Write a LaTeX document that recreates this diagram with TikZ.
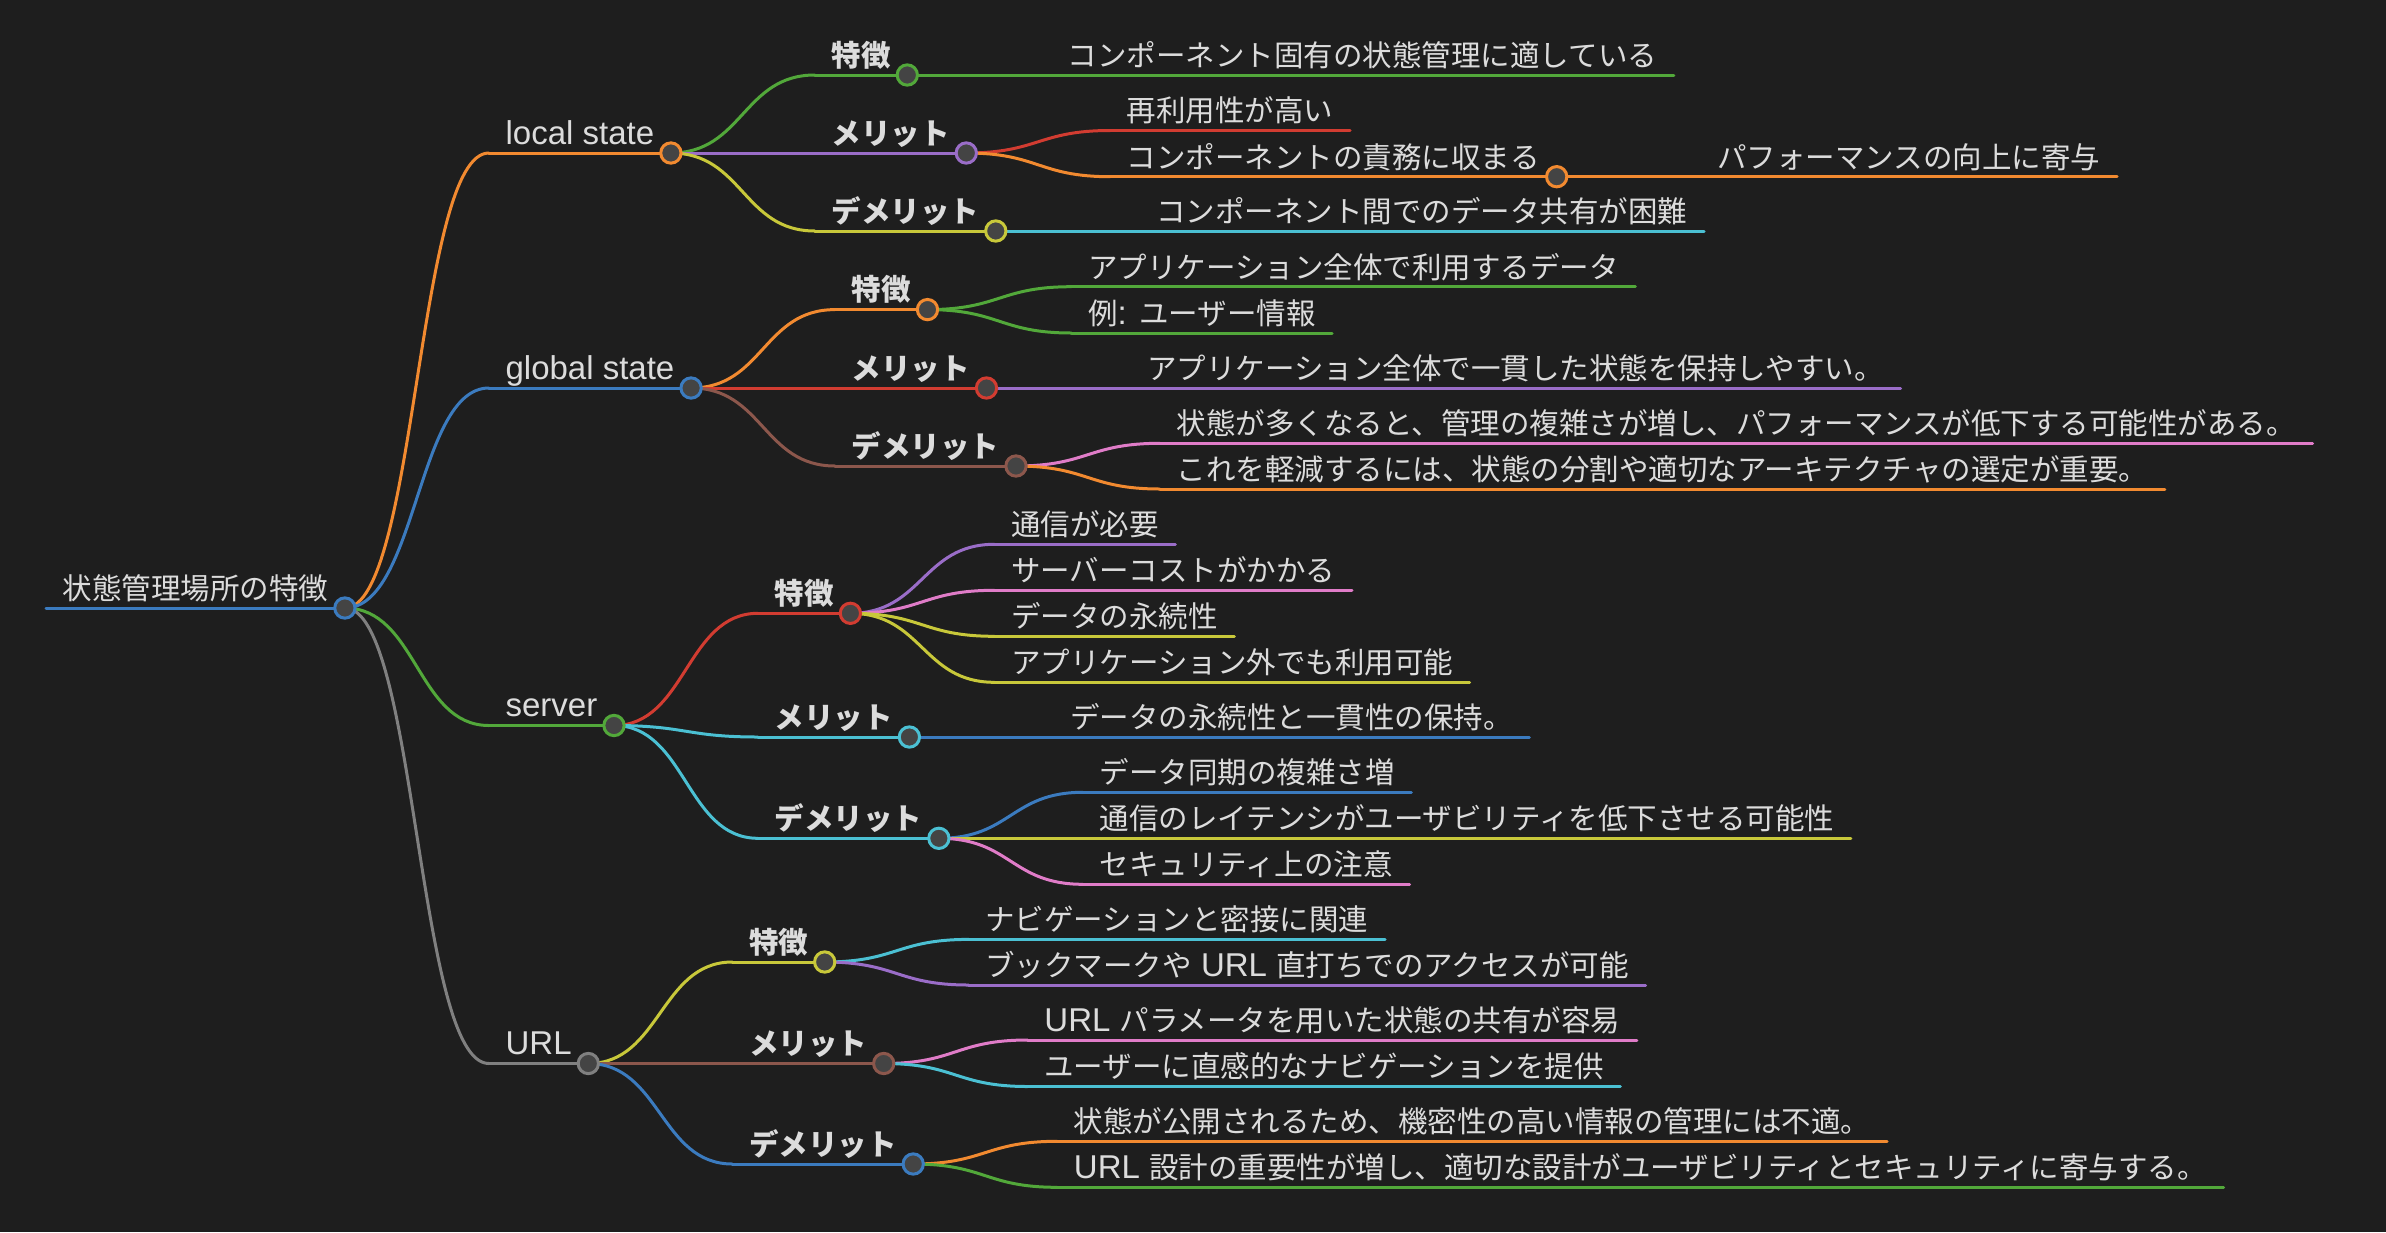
\documentclass[tikz,border=0pt]{standalone}
\usepackage{fontspec}
\setmainfont{Noto Sans CJK JP}
\newfontfamily\latf{Liberation Sans}
\usetikzlibrary{calc}
\definecolor{bg}{HTML}{1E1E1E}
\definecolor{txt}{HTML}{DCDCDC}
\definecolor{dotfill}{HTML}{444444}
\definecolor{cblue}{HTML}{3B7BBF}
\definecolor{corange}{HTML}{F28A30}
\definecolor{cgreen}{HTML}{52A83A}
\definecolor{cred}{HTML}{D23C31}
\definecolor{cpurple}{HTML}{9A6DC8}
\definecolor{cbrown}{HTML}{8C574C}
\definecolor{cpink}{HTML}{E07CC8}
\definecolor{cgray}{HTML}{808080}
\definecolor{colive}{HTML}{C8C83A}
\definecolor{ccyan}{HTML}{4BC0D3}
\newcommand\lt[1]{{\latf\fontsize{33}{36}\selectfont #1}}
\tikzset{
  lbl/.style={anchor=south west, inner xsep=16.5pt, inner ysep=8.5pt, text depth=0pt,
    text=txt, font=\fontsize{29.5}{34}\selectfont},
  blbl/.style={lbl, font=\fontsize{29.5}{34}\selectfont\bfseries},
  wire/.style={line width=3pt, line cap=round},
  dot/.style={circle, minimum size=20.3pt, inner sep=0pt, line width=3pt, fill=dotfill, draw=#1},
}
% child node: parent, name, y, style, text
\newcommand\kid[5]{\node[#4, xshift=144pt] (#2) at (#1.south east |- 0,#3) {#5};}
% link + underline: parent, child, colour
\newcommand\lnk[3]{%
  \draw[wire, #3] let \p1=(#1.south east), \p2=(#2.south west) in
    (\p1) .. controls ({0.5*\x1+0.5*\x2},\y1) and ({0.5*\x1+0.5*\x2},\y2) .. (\p2);
  \draw[wire, #3] (#2.south west) -- (#2.south east);}
\newcommand\dotat[2]{\node[dot=#2] (#1-d) at (#1.south east) {};}
\begin{document}
\begin{tikzpicture}[x=1pt,y=-1pt]
\fill[bg] (0,0) rectangle (2386,1232);
\useasboundingbox (0,0) rectangle (2386,1232);
% ---------- nodes ----------
\node[lbl] (root) at (46,608) {状態管理場所の特徴};
\kid{root}{ls}{153}{lbl}{\lt{local state}}
\kid{root}{gs}{388}{lbl}{\lt{global state}}
\kid{root}{sv}{725.5}{lbl}{\lt{server}}
\kid{root}{ur}{1063.5}{lbl}{\lt{URL}}
% local state
\kid{ls}{ls1}{75}{blbl}{特徴}
\kid{ls}{ls2}{153}{blbl}{メリット}
\kid{ls}{ls3}{231}{blbl}{デメリット}
\kid{ls1}{ls1a}{75}{lbl}{コンポーネント固有の状態管理に適している}
\kid{ls2}{ls2a}{130.5}{lbl}{再利用性が高い}
\kid{ls2}{ls2b}{176.7}{lbl}{コンポーネントの責務に収まる}
\kid{ls2b}{ls2b1}{176.7}{lbl}{パフォーマンスの向上に寄与}
\kid{ls3}{ls3a}{231}{lbl}{コンポーネント間でのデータ共有が困難}
% global state
\kid{gs}{gs1}{309.6}{blbl}{特徴}
\kid{gs}{gs2}{388}{blbl}{メリット}
\kid{gs}{gs3}{466}{blbl}{デメリット}
\kid{gs1}{gs1a}{286.7}{lbl}{アプリケーション全体で利用するデータ}
\kid{gs1}{gs1b}{333}{lbl}{例\lt{: }ユーザー情報}
\kid{gs2}{gs2a}{388}{lbl}{アプリケーション全体で一貫した状態を保持しやすい。}
\kid{gs3}{gs3a}{443.3}{lbl}{状態が多くなると、管理の複雑さが増し、パフォーマンスが低下する可能性がある。}
\kid{gs3}{gs3b}{489}{lbl}{これを軽減するには、状態の分割や適切なアーキテクチャの選定が重要。}
% server
\kid{sv}{sv1}{613.3}{blbl}{特徴}
\kid{sv}{sv2}{737}{blbl}{メリット}
\kid{sv}{sv3}{838.3}{blbl}{デメリット}
\kid{sv1}{sv1a}{544.3}{lbl}{通信が必要}
\kid{sv1}{sv1b}{590.3}{lbl}{サーバーコストがかかる}
\kid{sv1}{sv1c}{636.3}{lbl}{データの永続性}
\kid{sv1}{sv1d}{682.3}{lbl}{アプリケーション外でも利用可能}
\kid{sv2}{sv2a}{737}{lbl}{データの永続性と一貫性の保持。}
\kid{sv3}{sv3a}{792.3}{lbl}{データ同期の複雑さ増}
\kid{sv3}{sv3b}{838.3}{lbl}{通信のレイテンシがユーザビリティを低下させる可能性}
\kid{sv3}{sv3c}{884.3}{lbl}{セキュリティ上の注意}
% URL
\kid{ur}{ur1}{962}{blbl}{特徴}
\kid{ur}{ur2}{1063.5}{blbl}{メリット}
\kid{ur}{ur3}{1164}{blbl}{デメリット}
\kid{ur1}{ur1a}{939.4}{lbl}{ナビゲーションと密接に関連}
\kid{ur1}{ur1b}{985}{lbl}{ブックマークや\lt{ URL }直打ちでのアクセスが可能}
\kid{ur2}{ur2a}{1040}{lbl}{\lt{URL }パラメータを用いた状態の共有が容易}
\kid{ur2}{ur2b}{1086.5}{lbl}{ユーザーに直感的なナビゲーションを提供}
\kid{ur3}{ur3a}{1141.3}{lbl}{状態が公開されるため、機密性の高い情報の管理には不適。}
\kid{ur3}{ur3b}{1187.3}{lbl}{\lt{URL }設計の重要性が増し、適切な設計がユーザビリティとセキュリティに寄与する。}
% ---------- connectors ----------
\draw[wire, cblue] (root.south west) -- (root.south east);
\lnk{root}{ls}{corange}
\lnk{root}{gs}{cblue}
\lnk{root}{sv}{cgreen}
\lnk{root}{ur}{cgray}
\lnk{ls}{ls1}{cgreen}
\lnk{ls}{ls2}{cpurple}
\lnk{ls}{ls3}{colive}
\lnk{ls1}{ls1a}{cgreen}
\lnk{ls2}{ls2a}{cred}
\lnk{ls2}{ls2b}{corange}
\lnk{ls2b}{ls2b1}{corange}
\lnk{ls3}{ls3a}{ccyan}
\lnk{gs}{gs1}{corange}
\lnk{gs}{gs2}{cred}
\lnk{gs}{gs3}{cbrown}
\lnk{gs1}{gs1a}{cgreen}
\lnk{gs1}{gs1b}{cgreen}
\lnk{gs2}{gs2a}{cpurple}
\lnk{gs3}{gs3a}{cpink}
\lnk{gs3}{gs3b}{corange}
\lnk{sv}{sv1}{cred}
\lnk{sv}{sv2}{ccyan}
\lnk{sv}{sv3}{ccyan}
\lnk{sv1}{sv1a}{cpurple}
\lnk{sv1}{sv1b}{cpink}
\lnk{sv1}{sv1c}{colive}
\lnk{sv1}{sv1d}{colive}
\lnk{sv2}{sv2a}{cblue}
\lnk{sv3}{sv3a}{cblue}
\lnk{sv3}{sv3b}{colive}
\lnk{sv3}{sv3c}{cpink}
\lnk{ur}{ur1}{colive}
\lnk{ur}{ur2}{cbrown}
\lnk{ur}{ur3}{cblue}
\lnk{ur1}{ur1a}{ccyan}
\lnk{ur1}{ur1b}{cpurple}
\lnk{ur2}{ur2a}{cpink}
\lnk{ur2}{ur2b}{ccyan}
\lnk{ur3}{ur3a}{corange}
\lnk{ur3}{ur3b}{cgreen}
% ---------- dots ----------
\dotat{root}{cblue}
\dotat{ls}{corange}
\dotat{gs}{cblue}
\dotat{sv}{cgreen}
\dotat{ur}{cgray}
\dotat{ls1}{cgreen}
\dotat{ls2}{cpurple}
\dotat{ls3}{colive}
\dotat{ls2b}{corange}
\dotat{gs1}{corange}
\dotat{gs2}{cred}
\dotat{gs3}{cbrown}
\dotat{sv1}{cred}
\dotat{sv2}{ccyan}
\dotat{sv3}{ccyan}
\dotat{ur1}{colive}
\dotat{ur2}{cbrown}
\dotat{ur3}{cblue}
\end{tikzpicture}
\end{document}
